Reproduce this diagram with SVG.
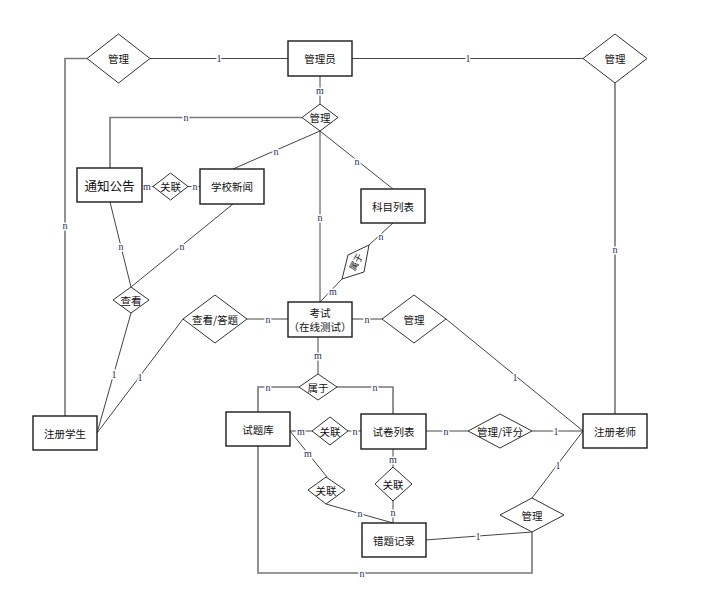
<svg xmlns="http://www.w3.org/2000/svg" width="708" height="609" viewBox="0 0 708 609">
<style>
.bg{fill:#fff}
.ent{fill:#fff;stroke:#1a1a1a;stroke-width:1.4}
.rel{fill:#fff;stroke:#333;stroke-width:1}
.t{font-family:"Noto Sans CJK SC","Noto Sans",sans-serif;font-size:10.5px;fill:#111;text-anchor:middle;dominant-baseline:central}
.tb{font-size:12.5px}
.ts{font-size:9px}
.ln{fill:none;stroke:#444;stroke-width:1}
.lg{fill:none;stroke:#777;stroke-width:1.6}
.lb{font-family:"Liberation Serif",serif;font-size:10px;fill:#23306a;text-anchor:middle;dominant-baseline:central;stroke:#fff;stroke-width:3;paint-order:stroke}
</style>
<rect class="bg" x="0" y="0" width="708" height="609"/>
<g id="connectors">
<polyline class="lg" points="87,58.5 65,58.5 65,416"/>
<line class="ln" x1="150" y1="58.5" x2="288" y2="58.5"/>
<line class="ln" x1="352" y1="58.5" x2="583" y2="58.5"/>
<line class="lg" x1="615" y1="83" x2="615" y2="414"/>
<line class="ln" x1="320" y1="76" x2="320" y2="104"/>
<polyline class="lg" points="302,117.5 110,117.5 110,168"/>
<line class="ln" x1="320" y1="131" x2="233" y2="169"/>
<line class="ln" x1="320" y1="131" x2="393" y2="189"/>
<line class="ln" x1="320" y1="131" x2="320" y2="302"/>
<line class="ln" x1="142" y1="186.5" x2="200" y2="186.5"/>
<line class="ln" x1="110" y1="202" x2="131" y2="287"/>
<line class="ln" x1="233" y1="204" x2="131" y2="287"/>
<line class="ln" x1="131" y1="313" x2="97" y2="433"/>
<line class="ln" x1="183" y1="319" x2="97" y2="433"/>
<line class="ln" x1="247" y1="319" x2="288" y2="319"/>
<line class="ln" x1="393" y1="223" x2="369" y2="245"/>
<line class="ln" x1="342" y1="279" x2="320" y2="302"/>
<line class="ln" x1="352" y1="319" x2="382" y2="319"/>
<line class="ln" x1="446" y1="319" x2="583" y2="431"/>
<line class="ln" x1="318" y1="337" x2="318" y2="374"/>
<polyline class="lg" points="299,387 258,387 258,412"/>
<polyline class="lg" points="336,387 393,387 393,414"/>
<line class="ln" x1="290" y1="431" x2="312" y2="431"/>
<line class="ln" x1="348" y1="431" x2="361" y2="431"/>
<line class="ln" x1="426" y1="431" x2="468" y2="431"/>
<line class="ln" x1="532" y1="431" x2="583" y2="431"/>
<line class="ln" x1="290" y1="431" x2="327" y2="477"/>
<line class="ln" x1="326" y1="504" x2="393" y2="523"/>
<line class="ln" x1="393" y1="449" x2="393" y2="467"/>
<line class="ln" x1="393" y1="501" x2="393" y2="523"/>
<line class="ln" x1="425" y1="540" x2="532" y2="532"/>
<line class="ln" x1="532" y1="498" x2="583" y2="431"/>
<polyline class="lg" points="258,446 258,573 532,573 532,532"/>
</g>
<g id="labels">
<text class="lb" x="219" y="58.5">1</text>
<text class="lb" x="468" y="58.5">1</text>
<text class="lb" x="65" y="225">n</text>
<text class="lb" x="615" y="249">n</text>
<text class="lb" x="320" y="90">m</text>
<text class="lb" x="186" y="117.5">n</text>
<text class="lb" x="276" y="151">n</text>
<text class="lb" x="357" y="161">n</text>
<text class="lb" x="320" y="217">n</text>
<text class="lb" x="147" y="186.5">m</text>
<text class="lb" x="195" y="186.5">n</text>
<text class="lb" x="121" y="246">n</text>
<text class="lb" x="182" y="246">n</text>
<text class="lb" x="114" y="374">1</text>
<text class="lb" x="140" y="377">1</text>
<text class="lb" x="268" y="319">n</text>
<text class="lb" x="381" y="236">n</text>
<text class="lb" x="333" y="291">m</text>
<text class="lb" x="367" y="319">n</text>
<text class="lb" x="515" y="377">1</text>
<text class="lb" x="318" y="355">m</text>
<text class="lb" x="268" y="387">n</text>
<text class="lb" x="375" y="387">n</text>
<text class="lb" x="301" y="431">m</text>
<text class="lb" x="355" y="431">n</text>
<text class="lb" x="446" y="431">n</text>
<text class="lb" x="556" y="431">1</text>
<text class="lb" x="308" y="453">m</text>
<text class="lb" x="360" y="513">n</text>
<text class="lb" x="393" y="459">m</text>
<text class="lb" x="393" y="512">n</text>
<text class="lb" x="478" y="536">1</text>
<text class="lb" x="558" y="465">1</text>
<text class="lb" x="362" y="573">n</text>
</g>
<g id="admin"><rect class="ent" x="288" y="41" width="64" height="35"/><text class="t" x="320" y="58.5">管理员</text></g>
<g id="rel-manage-left"><polygon class="rel" points="87,58.5 118.5,34 150,58.5 118.5,83"/><text class="t" x="118.5" y="58.5">管理</text></g>
<g id="rel-manage-right"><polygon class="rel" points="583,58.5 615,34 647,58.5 615,83"/><text class="t" x="615" y="58.5">管理</text></g>
<g id="rel-manage-top"><polygon class="rel" points="302,117.5 320,104 338,117.5 320,131"/><text class="t" x="320" y="117.5">管理</text></g>
<g id="notice"><rect class="ent" x="77" y="168" width="65" height="34"/><text class="t tb" x="109.5" y="185">通知公告</text></g>
<g id="rel-assoc-news"><polygon class="rel" points="153,186.5 170.5,173 188,186.5 170.5,200"/><text class="t" x="170.5" y="186.5">关联</text></g>
<g id="news"><rect class="ent" x="200" y="169" width="64" height="35"/><text class="t" x="232" y="186.5">学校新闻</text></g>
<g id="subjects"><rect class="ent" x="361" y="189" width="64" height="34"/><text class="t" x="393" y="206">科目列表</text></g>
<g id="rel-belong-subject"><polygon class="rel" points="369,245 364,272 342,279 348,255"/><text class="t ts" transform="rotate(-62 356 262)" x="356" y="262">属于</text></g>
<g id="rel-view"><polygon class="rel" points="113,300 131,287 149,300 131,313"/><text class="t" x="131" y="300">查看</text></g>
<g id="rel-view-answer"><polygon class="rel" points="183,319 215,295 247,319 215,343"/><text class="t" x="215" y="319">查看/答题</text></g>
<g id="exam"><rect class="ent" x="288" y="302" width="64" height="35"/><text class="t" x="320" y="312">考试</text><text class="t" x="320" y="326">（在线测试）</text></g>
<g id="rel-manage-exam"><polygon class="rel" points="382,319 414,295 446,319 414,343"/><text class="t" x="414" y="319">管理</text></g>
<g id="student"><rect class="ent" x="33" y="416" width="64" height="34"/><text class="t" x="65" y="433">注册学生</text></g>
<g id="teacher"><rect class="ent" x="583" y="414" width="64" height="34"/><text class="t" x="615" y="431">注册老师</text></g>
<g id="rel-belong-exam"><polygon class="rel" points="299,387 318,374 337,387 318,400"/><text class="t" x="318" y="387">属于</text></g>
<g id="question-bank"><rect class="ent" x="226" y="412" width="64" height="34"/><text class="t" x="258" y="429">试题库</text></g>
<g id="rel-assoc-paper"><polygon class="rel" points="312,431 330,417 348,431 330,445"/><text class="t" x="330" y="431">关联</text></g>
<g id="papers"><rect class="ent" x="361" y="414" width="65" height="35"/><text class="t" x="393.5" y="431.5">试卷列表</text></g>
<g id="rel-manage-grade"><polygon class="rel" points="468,431 500,414 532,431 500,448"/><text class="t" x="500" y="431">管理/评分</text></g>
<g id="rel-assoc-wrong1"><polygon class="rel" points="308,490 326,477 345,490 326,504"/><text class="t" x="326" y="490">关联</text></g>
<g id="rel-assoc-wrong2"><polygon class="rel" points="375,484 393,467 412,484 393,501"/><text class="t" x="393" y="484">关联</text></g>
<g id="wrong-records"><rect class="ent" x="362" y="523" width="64" height="34"/><text class="t" x="394" y="540">错题记录</text></g>
<g id="rel-manage-bottom"><polygon class="rel" points="500,515 532,498 564,515 532,532"/><text class="t" x="532" y="515">管理</text></g>
</svg>
